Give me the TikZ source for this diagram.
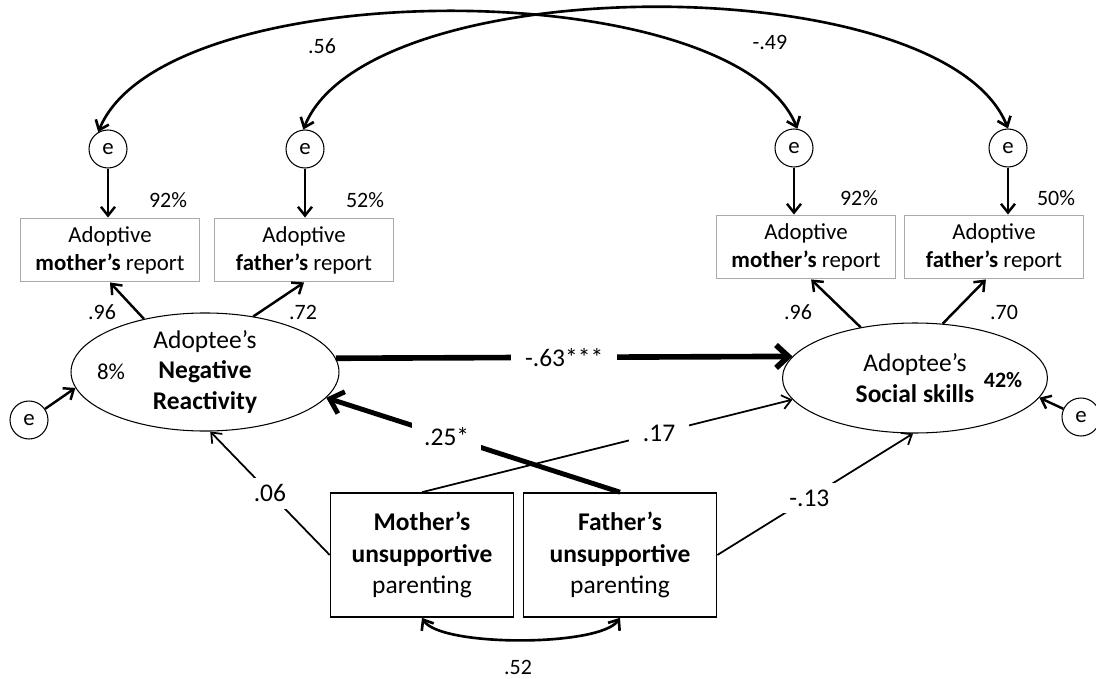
\documentclass[tikz,border=0pt]{standalone}
\usepackage{fontspec}
\setmainfont{Carlito}
\usepackage{tikz}
\usetikzlibrary{arrows.meta,shapes.geometric}
\definecolor{boxgray}{RGB}{170,170,170}

\begin{document}
\begin{tikzpicture}[x=0.02cm,y=-0.02cm,
  box/.style={draw=boxgray,line width=1.1pt,align=center,minimum width=3.58cm,minimum height=1.26cm,inner sep=0pt,font=\fontsize{13}{16}\selectfont},
  pbox/.style={draw,line width=0.95pt,align=center,minimum height=2.48cm,inner sep=0pt,font=\fontsize{14.5}{18}\selectfont},
  lat/.style={draw,ellipse,line width=0.6pt,align=center,inner sep=0pt,font=\fontsize{14.5}{17.5}\selectfont},
  err/.style={draw,circle,line width=0.6pt,minimum size=0.76cm,inner sep=0pt,font=\fontsize{13}{15}\selectfont},
  sm/.style={inner sep=1pt,font=\fontsize{12.5}{14}\selectfont},
  lbl/.style={fill=white,inner xsep=8pt,inner ysep=4pt,font=\fontsize{14.5}{17}\selectfont},
  arr/.style={-{Straight Barb[length=5pt,width=8pt]},line width=1.4pt},
  reg/.style={-{Straight Barb[length=5pt,width=8pt]},line width=1pt},
  heavy/.style={-{Straight Barb[length=7pt,width=13pt]},line width=3pt},
  cov/.style={{Straight Barb[length=5pt,width=8pt]}-{Straight Barb[length=5pt,width=8pt]},line width=1.5pt}]
  \useasboundingbox (0,0) rectangle (1096,679);

  \node[box] (mr1) at (110,250) {Adoptive\\\textbf{mother’s} report};
  \node[box] (fr1) at (304,250) {Adoptive\\\textbf{father’s} report};
  \node[box] (mr2) at (806,247) {Adoptive\\\textbf{mother’s} report};
  \node[box] (fr2) at (994,247) {Adoptive\\\textbf{father’s} report};

  \node[err] (e1) at (108,149) {e};
  \node[err] (e2) at (305,149) {e};
  \node[err] (e3) at (794,148) {e};
  \node[err] (e4) at (1008,148) {e};
  \node[err] (enr) at (29,420) {e};
  \node[err] (ess) at (1081,417) {e};

  \node[lat,minimum width=5.36cm,minimum height=2.1cm] (nr) at (205,372) {Adoptee’s\\\textbf{Negative}\\\textbf{Reactivity}};
  \node[lat,minimum width=5.3cm,minimum height=2.2cm] (ss) at (915,378) {Adoptee’s\\\textbf{Social skills}};

  \node[pbox,minimum width=3.66cm] (mp) at (422,555) {\textbf{Mother’s}\\\textbf{unsupportive}\\parenting};
  \node[pbox,minimum width=3.86cm] (fp) at (620,555) {\textbf{Father’s}\\\textbf{unsupportive}\\parenting};

  \node[sm] (r1) at (168,200) {92\%};
  \node[sm] (r2) at (365,200) {52\%};
  \node[sm] (r3) at (859,198) {92\%};
  \node[sm] (r4) at (1056,198) {50\%};
  \node[sm] (l1) at (102,312) {.96};
  \node[sm] (l2) at (303,312) {.72};
  \node[sm] (l3) at (798,312) {.96};
  \node[sm] (l4) at (1004,312) {.70};
  \node[sm] (c1) at (322,46) {.56};
  \node[sm] (c2) at (770,42) {-.49};
  \node[sm] (c3) at (518,667) {.52};
  \node[sm,font=\fontsize{13}{15}\selectfont] (rnr) at (111,372) {8\%};
  \node[sm,font=\fontsize{12.5}{14}\selectfont\bfseries] (rss) at (1003,380) {42\%};

  \draw[cov] (e1.120) .. controls (163,-28) and (734,-28) .. (e3.80);
  \draw[cov] (e2.95) .. controls (368,-33) and (944,-33) .. (e4.90);

  \draw[arr] (e1) -- (e1 |- mr1.north);
  \draw[arr] (e2) -- (e2 |- fr1.north);
  \draw[arr] (e3) -- (e3 |- mr2.north);
  \draw[arr] (e4) -- (e4 |- fr2.north);

  \draw[arr] (nr.139) -- (mr1.south);
  \draw[arr] (nr.49) -- (fr1.south);
  \draw[arr] (ss.137) -- (mr2.-81);
  \draw[arr] (ss.63) -- (fr2.-104);

  \draw[arr] (enr) -- (nr.187);
  \draw[arr] (ess) -- (ss.-9);

  \draw[reg] (mp.west) -- node[lbl,pos=0.5] {.06} (nr.-85);
  \draw[reg] (mp.north) -- node[lbl,pos=0.64] {.17} (ss.190);
  \draw[reg] (fp.east) -- node[lbl,pos=0.47] {-.13} (ss.-92);
  \draw[heavy,line width=2.8pt] (fp.north) -- node[lbl,inner sep=7pt,pos=0.59] {.25*} (nr.-12);
  \draw[heavy,line width=3.2pt] (nr.6) -- node[lbl,inner xsep=8pt] {-.63***} (ss.170);

  \draw[cov] (mp.south) .. controls (440,647) and (600,647) .. (fp.south);
\end{tikzpicture}
\end{document}
